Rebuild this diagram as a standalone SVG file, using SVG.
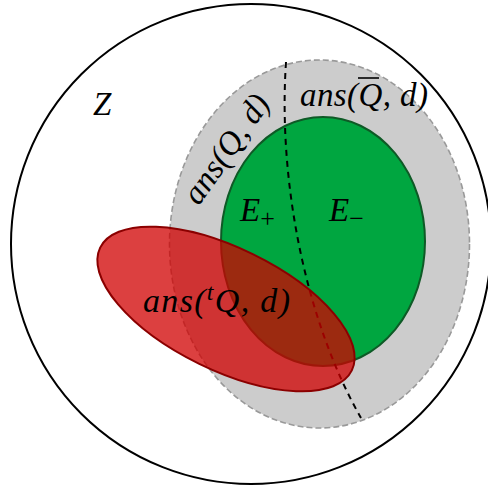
<svg xmlns="http://www.w3.org/2000/svg" width="488" height="492" viewBox="0 0 488 492">
<style>
.m{font-family:"Liberation Serif","DejaVu Serif",serif;font-style:italic;fill:#000;}
.up{font-style:normal;}
</style>
<rect width="488" height="492" fill="#fff"/>
<g id="universe">
<circle cx="251" cy="244" r="240" fill="none" stroke="#000" stroke-width="2"/>
<text class="m" x="93" y="115" font-size="33">Z</text>
</g>
<g id="ansQ">
<ellipse cx="319.5" cy="244" rx="150" ry="184" fill="#cccccc" stroke="#999" stroke-width="1.6" stroke-dasharray="6,3"/>
</g>
<g id="E">
<ellipse cx="323" cy="241.5" rx="102" ry="124.5" fill="#00a640" stroke="#0e5a26" stroke-width="2"/>
</g>
<g id="split">
<path d="M286,62 C278,180 305,320 361,418" fill="none" stroke="#000" stroke-width="2" stroke-dasharray="6,5"/>
</g>
<g id="ansTQ">
<ellipse cx="226" cy="309" rx="140" ry="61" transform="rotate(26 226 309)" fill="rgb(208,0,0)" fill-opacity="0.75" stroke="#8b0000" stroke-width="2"/>
</g>
<g id="labels">
<text class="m" font-size="33" transform="translate(235,155) rotate(-55)" text-anchor="middle" textLength="126" lengthAdjust="spacing">ans(Q, d)</text>
<text class="m" x="300" y="106" font-size="33" textLength="128" lengthAdjust="spacing">ans(Q, d)</text>
<line x1="358" y1="78" x2="379" y2="78" stroke="#000" stroke-width="1.6"/>
<text class="m" x="240" y="221" font-size="33">E<tspan class="up" font-size="26" dy="6">+</tspan></text>
<text class="m" x="329" y="221" font-size="33">E<tspan class="up" font-size="26" dy="6">−</tspan></text>
<text class="m" x="143" y="312" font-size="34" textLength="147" lengthAdjust="spacing">ans(<tspan font-size="24" dy="-12">t</tspan><tspan dy="12">Q, d)</tspan></text>
</g>
</svg>
